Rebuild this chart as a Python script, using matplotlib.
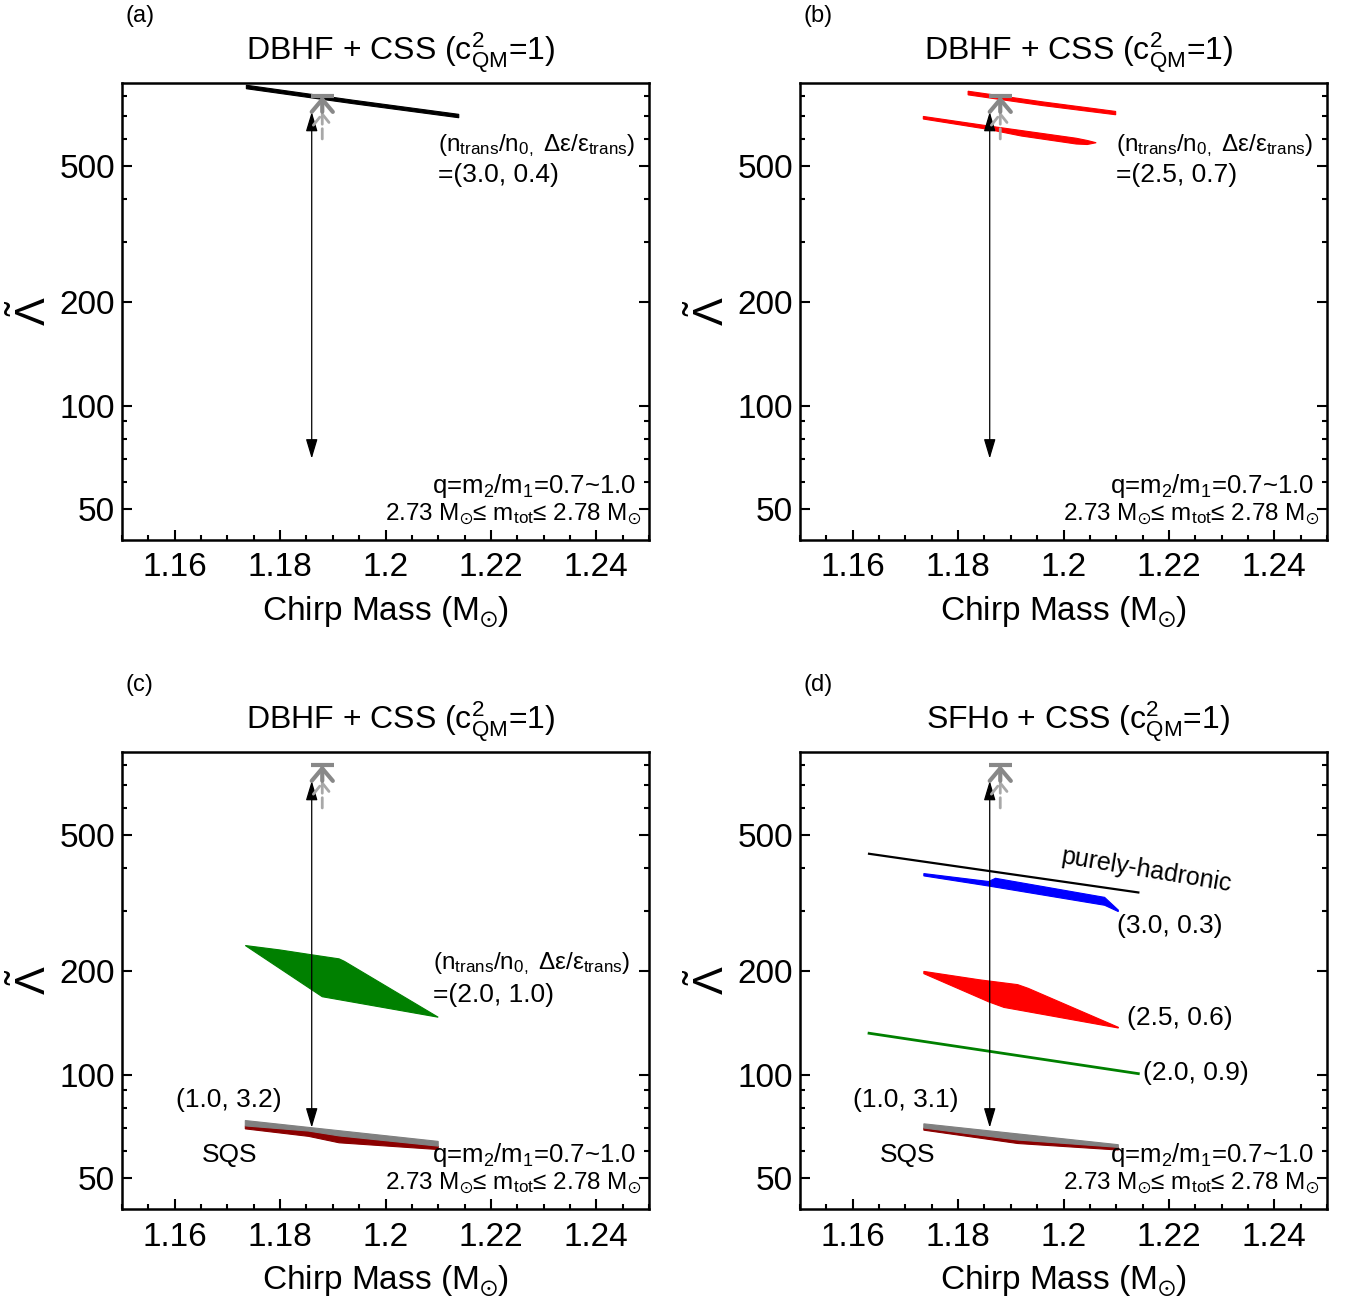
import matplotlib
matplotlib.use("Agg")
import matplotlib.pyplot as plt
import numpy as np
from matplotlib.ticker import FixedLocator, MultipleLocator, NullFormatter

plt.rcParams['font.family'] = ['Liberation Sans', 'DejaVu Sans']
plt.rcParams['mathtext.default'] = 'regular'

# axis ranges and ticks
x_range = (1.15, 1.25)
lam_range = (40.5, 874)
x_major = [1.16, 1.18, 1.2, 1.22, 1.24]
x_labels = ['1.16', '1.18', '1.2', '1.22', '1.24']
lam_major = [50, 100, 200, 500]
lam_minor = [60, 70, 80, 90, 300, 400, 600, 700, 800]

# GW170817 constraints
gw_x = 1.186
gw_range = (70, 720)
lim_x = 1.188
lim_solid = (720, 800)
lim_dashed = (600, 720)

# (a) DBHF + CSS, (3.0, 0.4)
a_x = [1.1736, 1.1940, 1.2139]
a_top = [861, 778, 708]
a_bot = [841, 760, 692]

# (b) DBHF + CSS, (2.5, 0.7): two branches
b1_x = [1.1819, 1.1960, 1.2099]
b1_top = [827, 770, 722]
b1_bot = [807, 751, 706]
b2_x = [1.1734, 1.1857, 1.1920, 1.2024, 1.2045, 1.2062]
b2_top = [698, 655, 635, 603, 594, 585]
b2_bot = [686, 640, 612, 580, 578, 585]

# (c) DBHF + CSS, (2.0, 1.0) and SQS (1.0, 3.2)
c_green_xt = [1.1734, 1.1800, 1.1857, 1.1912, 1.1922, 1.2100]
c_green_top = [238, 231, 224, 217.6, 214, 147]
c_green_xb = [1.1734, 1.1880, 1.2100]
c_green_bot = [238, 168.7, 147]
c_gray_xt = [1.1734, 1.2100]
c_gray_top = [73.4, 63.8]
c_sqs_x = [1.1734, 1.1854, 1.1912, 1.2100]
c_gray_bot = [70.8, 68.4, 66.2, 61.8]
c_dred_bot = [69.4, 66.0, 63.2, 60.4]

# (d) SFHo + CSS
d_had_x = [1.1631, 1.2142]
d_had = [441, 340]
d_blue_xt = [1.1735, 1.1858, 1.1871, 1.2078, 1.2104]
d_blue_top = [386, 366, 374, 329, 302]
d_blue_xb = [1.1735, 1.1858, 1.2078, 1.2104]
d_blue_bot = [380, 355, 312, 299]
d_red_xt = [1.1735, 1.1841, 1.1913, 1.1933, 1.2104]
d_red_top = [200, 189, 183, 178.5, 137.4]
d_red_xb = [1.1735, 1.1858, 1.1887, 1.2104]
d_red_bot = [197, 163, 157, 136.7]
d_green_x = [1.1631, 1.2142]
d_green = [132, 100.6]
d_gray_xt = [1.1735, 1.2104]
d_gray_top = [71.8, 62.4]
d_sqs_x = [1.1735, 1.1913, 1.2104]
d_gray_bot = [69.8, 64.4, 61.3]
d_dred_bot = [68.8, 62.9, 60.2]

titles = [r'DBHF + CSS (c$^2_{QM}$=1)'] * 3 + [r'SFHo + CSS (c$^2_{QM}$=1)']
panel_tags = ['(a)', '(b)', '(c)', '(d)']

W, H = 1351, 1305
fig = plt.figure(figsize=(W / 100, H / 100), dpi=100)
boxes = [(122, 83), (800, 83), (122, 752), (800, 752)]
axes = []
for (px, py) in boxes:
    axes.append(fig.add_axes([px / W, 1 - (py + 457) / H, 527 / W, 457 / H]))


def band(ax, xt, yt, xb, yb, color):
    xs = np.concatenate([xt, xb[::-1]])
    ys = np.concatenate([yt, yb[::-1]])
    ax.fill(xs, ys, color=color, lw=0.8, ec=color)


def common(ax, title, tag):
    ax.set_yscale('log')
    ax.set_xlim(*x_range)
    ax.set_ylim(*lam_range)
    ax.xaxis.set_major_locator(FixedLocator(x_major))
    ax.set_xticklabels(x_labels)
    ax.xaxis.set_minor_locator(MultipleLocator(0.005))
    ax.yaxis.set_major_locator(FixedLocator(lam_major))
    ax.set_yticklabels([str(v) for v in lam_major])
    ax.yaxis.set_minor_locator(FixedLocator(lam_minor))
    ax.yaxis.set_minor_formatter(NullFormatter())
    ax.tick_params(which='both', direction='in', top=False, right=True,
                   labelsize=24, width=1.5)
    ax.tick_params(which='major', length=7)
    ax.tick_params(which='minor', length=3.5)
    ax.tick_params(axis='x', pad=9)
    ax.tick_params(axis='y', pad=5)
    for s in ax.spines.values():
        s.set_linewidth(1.8)
    ax.set_xlabel(r'Chirp Mass (M$_{\odot}$)', fontsize=24, va='center')
    ax.xaxis.set_label_coords(0.5, -0.158)
    ax.set_ylabel(r'$\tilde{\Lambda}$', fontsize=30, va='center')
    ax.yaxis.set_label_coords(-0.17, 0.5)
    ax.text(0.528, 1.05, title, transform=ax.transAxes, ha='center',
            va='baseline', fontsize=23)
    ax.text(0.034, 1.147, tag, transform=ax.transAxes, ha='center',
            va='center', fontsize=17)
    # GW170817 range and upper limits
    ax.annotate('', xy=(gw_x, gw_range[1]), xytext=(gw_x, gw_range[0]),
                arrowprops=dict(arrowstyle='<|-|>,head_length=0.6,head_width=0.18',
                                color='black', lw=0.9, mutation_scale=20,
                                shrinkA=0, shrinkB=0))
    ax.annotate('', xy=(lim_x, lim_dashed[1]), xytext=(lim_x, lim_dashed[0]),
                arrowprops=dict(arrowstyle='->,head_length=0.4,head_width=0.32',
                                color='#a8a8a8', lw=2, ls='--', mutation_scale=20,
                                shrinkA=0, shrinkB=0))
    ax.annotate('', xy=(lim_x, lim_solid[1]), xytext=(lim_x, lim_solid[0]),
                arrowprops=dict(arrowstyle='->,head_length=0.45,head_width=0.38',
                                color='#888888', lw=3, mutation_scale=20,
                                shrinkA=0, shrinkB=0))
    ax.plot([lim_x - 0.0022, lim_x + 0.0022], [lim_solid[1]] * 2,
            color='#888888', lw=3, solid_capstyle='butt')
    ax.text(0.985, 0.057, r'2.73 M$_{\odot}$≤ m$_{tot}$≤ 2.78 M$_{\odot}$',
            transform=ax.transAxes, ha='right', va='center', fontsize=17.5)
    ax.text(0.975, 0.118, r'q=m$_2$/m$_1$=0.7~1.0',
            transform=ax.transAxes, ha='right', va='center', fontsize=18.5)


for ax, t, tag in zip(axes, titles, panel_tags):
    common(ax, t, tag)

param_txt = r'(n$_{trans}$/n$_{0,}$ Δε/ε$_{trans}$)'

# (a)
ax = axes[0]
band(ax, a_x, a_top, a_x, a_bot, 'black')
ax.text(0.600, 0.864, param_txt, transform=ax.transAxes, va='center', fontsize=17.5)
ax.text(0.600, 0.799, '=(3.0, 0.4)', transform=ax.transAxes, va='center', fontsize=19)

# (b)
ax = axes[1]
band(ax, b1_x, b1_top, b1_x, b1_bot, 'red')
band(ax, b2_x, b2_top, b2_x, b2_bot, 'red')
ax.text(0.600, 0.864, param_txt, transform=ax.transAxes, va='center', fontsize=17.5)
ax.text(0.600, 0.799, '=(2.5, 0.7)', transform=ax.transAxes, va='center', fontsize=19)

# (c)
ax = axes[2]
band(ax, c_green_xt, c_green_top, c_green_xb, c_green_bot, 'green')
band(ax, c_sqs_x, c_gray_bot, c_sqs_x, c_dred_bot, '#8b0000')
band(ax, c_gray_xt, c_gray_top, c_sqs_x, c_gray_bot, 'gray')
ax.text(0.590, 0.536, param_txt, transform=ax.transAxes, va='center', fontsize=17.5)
ax.text(0.590, 0.468, '=(2.0, 1.0)', transform=ax.transAxes, va='center', fontsize=19)
ax.text(0.102, 0.239, '(1.0, 3.2)', transform=ax.transAxes, va='center', fontsize=19)
ax.text(0.152, 0.118, 'SQS', transform=ax.transAxes, va='center', fontsize=19)

# (d)
ax = axes[3]
ax.plot(d_had_x, d_had, color='black', lw=1.6)
band(ax, d_blue_xt, d_blue_top, d_blue_xb, d_blue_bot, 'blue')
band(ax, d_red_xt, d_red_top, d_red_xb, d_red_bot, 'red')
ax.plot(d_green_x, d_green, color='green', lw=2)
band(ax, d_sqs_x, d_gray_bot, d_sqs_x, d_dred_bot, '#8b0000')
band(ax, d_gray_xt, d_gray_top, d_sqs_x, d_gray_bot, 'gray')
ax.text(0.658, 0.742, 'purely-hadronic', transform=ax.transAxes, ha='center',
        va='center', fontsize=18, rotation=-9.5)
ax.text(0.602, 0.619, '(3.0, 0.3)', transform=ax.transAxes, va='center', fontsize=19)
ax.text(0.620, 0.418, '(2.5, 0.6)', transform=ax.transAxes, va='center', fontsize=19)
ax.text(0.651, 0.298, '(2.0, 0.9)', transform=ax.transAxes, va='center', fontsize=19)
ax.text(0.101, 0.239, '(1.0, 3.1)', transform=ax.transAxes, va='center', fontsize=19)
ax.text(0.152, 0.118, 'SQS', transform=ax.transAxes, va='center', fontsize=19)

fig.savefig('out.png', dpi=100)
